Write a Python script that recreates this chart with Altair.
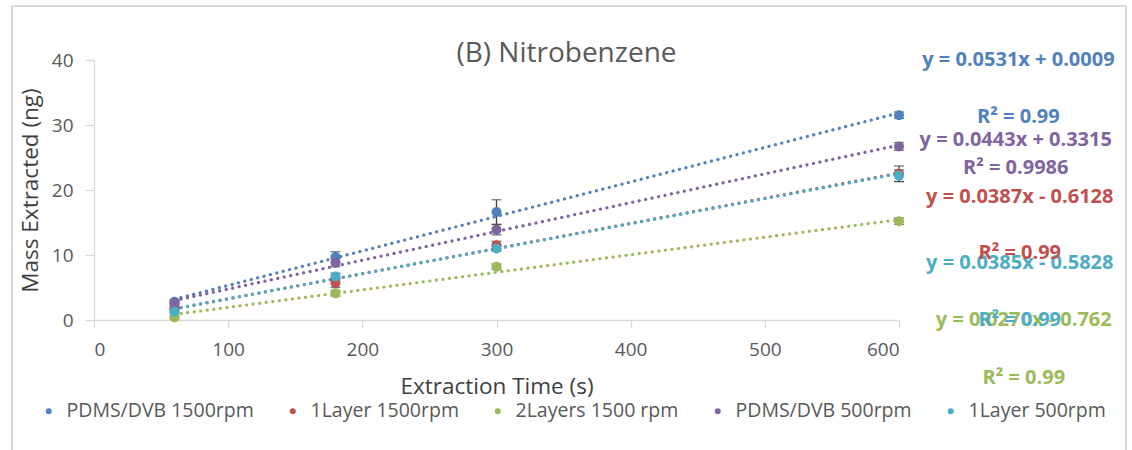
import altair as alt
import pandas as pd

# Series (legend order) and their colours
series = ["PDMS/DVB 1500rpm", "1Layer 1500rpm", "2Layers 1500 rpm",
          "PDMS/DVB 500rpm", "1Layer 500rpm"]
colors = ["#4F81BD", "#C0504D", "#9BBB59", "#8064A2", "#4BACC6"]

# Extraction times (s)
times = [60, 180, 300, 600]

# Mean mass extracted (ng) per series at each time
mass_pdms_1500 = [2.8, 9.7, 16.6, 31.5]
mass_1layer_1500 = [1.8, 5.7, 11.5, 22.5]
mass_2layers_1500 = [0.4, 4.1, 8.2, 15.2]
mass_pdms_500 = [2.6, 8.8, 13.9, 26.7]
mass_1layer_500 = [1.3, 6.7, 11.0, 22.2]

# Standard deviations (ng)
sd_pdms_1500 = [0.3, 0.8, 1.9, 0.5]
sd_1layer_1500 = [0.2, 0.7, 0.6, 1.2]
sd_2layers_1500 = [0.2, 0.4, 0.4, 0.5]
sd_pdms_500 = [0.3, 0.6, 0.8, 0.6]
sd_1layer_500 = [0.2, 0.5, 0.4, 0.9]

# Linear trendlines: y = slope * x + intercept
slopes = [0.0531, 0.0387, 0.0270, 0.0443, 0.0385]
intercepts = [0.0009, -0.6128, -0.762, 0.3315, -0.5828]
eq_text = ["y = 0.0531x + 0.0009", "y = 0.0387x - 0.6128", "y = 0.0270x - 0.762",
           "y = 0.0443x + 0.3315", "y = 0.0385x - 0.5828"]
r2_text = ["R² = 0.99", "R² = 0.99", "R² = 0.99", "R² = 0.9986", "R² = 0.99"]

# Where the equation / R² labels sit, in axis units (right of the plot)
label_x = [689, 690, 693, 687, 690]
eq_y = [40.0, 18.9, 0.0, 27.7, 8.8]
r2_y = [31.2, 10.3, -8.9, 23.4, 0.0]

means = [mass_pdms_1500, mass_1layer_1500, mass_2layers_1500, mass_pdms_500, mass_1layer_500]
sds = [sd_pdms_1500, sd_1layer_1500, sd_2layers_1500, sd_pdms_500, sd_1layer_500]

rows = []
for s, m, e in zip(series, means, sds):
    for t, v, d in zip(times, m, e):
        rows.append({"series": s, "time": t, "mass": v, "lo": v - d, "hi": v + d})
points = pd.DataFrame(rows)

trend = pd.DataFrame([
    {"series": s, "time": t, "slope": k, "b": b}
    for s, k, b in zip(series, slopes, intercepts) for t in (times[0], times[-1])
])

labels = pd.DataFrame(
    [{"series": s, "x": lx, "y": ey, "text": et} for s, lx, ey, et in zip(series, label_x, eq_y, eq_text)]
    + [{"series": s, "x": lx, "y": ry, "text": rt} for s, lx, ry, rt in zip(series, label_x, r2_y, r2_text)]
)

FONT = "Open Sans"
GREY = "#595959"
AXIS = "#d9d9d9"

xscale = alt.Scale(domain=[0, 600], nice=False)
yscale = alt.Scale(domain=[0, 40], nice=False)
color = alt.Color("series:N", scale=alt.Scale(domain=series, range=colors),
                  sort=series,
                  legend=alt.Legend(title=None, orient="none", direction="horizontal",
                                    legendX=-55, legendY=341, symbolType="circle",
                                    symbolSize=36, labelFont=FONT, labelFontSize=19.5,
                                    labelColor=GREY, labelOffset=8, columnPadding=29,
                                    labelLimit=0, symbolStrokeWidth=0))

x_enc = alt.X("time:Q", scale=xscale,
              axis=alt.Axis(title="Extraction Time (s)", values=[0, 100, 200, 300, 400, 500, 600],
                            titlePadding=16, labelPadding=12))
y_enc = alt.Y("mass:Q", scale=yscale,
              axis=alt.Axis(title="Mass Extracted (ng)", values=[0, 10, 20, 30, 40],
                            titlePadding=9, labelPadding=12, tickSize=9))

lines = alt.Chart(trend).transform_calculate(
    fit="datum.slope * datum.time + datum.b"
).mark_line(strokeWidth=3.2, strokeDash=[0.1, 6.5], strokeCap="round").encode(
    x=x_enc, y=alt.Y("fit:Q", scale=yscale), color=color, detail="series:N"
)

bars = alt.Chart(points).mark_rule(color="#404040", strokeWidth=1.3).encode(
    x="time:Q", y="lo:Q", y2="hi:Q"
)
caps_hi = alt.Chart(points).mark_tick(color="#404040", thickness=1.3, size=10,
                                      orient="horizontal").encode(x="time:Q", y="hi:Q")
caps_lo = alt.Chart(points).mark_tick(color="#404040", thickness=1.3, size=10,
                                      orient="horizontal").encode(x="time:Q", y="lo:Q")

dots = alt.Chart(points).mark_circle(size=100, opacity=1).encode(
    x="time:Q", y=y_enc, color=color
)

eq_labels = alt.Chart(labels).mark_text(font=FONT, fontSize=20, fontWeight="bold",
                                        align="center", baseline="middle", clip=False).encode(
    x=alt.X("x:Q", scale=xscale), y=alt.Y("y:Q", scale=yscale), text="text:N",
    color=alt.Color("series:N", scale=alt.Scale(domain=series, range=colors), legend=None)
)

# Outer chart frame
frame_left = alt.Chart(points).mark_rule(color=AXIS, strokeWidth=2).encode(
    x=alt.value(-82), y=alt.value(-54), y2=alt.value(400))
frame_right = alt.Chart(points).mark_rule(color=AXIS, strokeWidth=2).encode(
    x=alt.value(1032), y=alt.value(-54), y2=alt.value(400))
frame_top = alt.Chart(points).mark_rule(color=AXIS, strokeWidth=2).encode(
    x=alt.value(-82), x2=alt.value(1032), y=alt.value(-54))

chart = alt.layer(
    frame_left, frame_right, frame_top, lines, bars, caps_hi, caps_lo, dots, eq_labels
).resolve_scale(color="shared").properties(
    width=805, height=260,
    autosize=alt.AutoSizeParams(type="none"),
    padding={"left": 94, "top": 60, "right": 233, "bottom": 130},
    title=alt.TitleParams("(B) Nitrobenzene", font=FONT, fontSize=28, fontWeight="normal",
                          color=GREY, anchor="middle", dx=70, dy=43, offset=-20),
).configure_view(stroke=None).configure_axis(
    grid=False, domainColor=AXIS, tickColor=AXIS, domainWidth=1.3, tickWidth=1.3,
    labelFont=FONT, labelFontSize=19, labelColor=GREY,
    titleFont=FONT, titleFontSize=22.5, titleColor="#404040", titleFontWeight="normal",
).configure_axisX(tickSize=8).configure_axisY(domain=True)

chart.save("out.html", embed_options={"renderer": "svg", "actions": False})
